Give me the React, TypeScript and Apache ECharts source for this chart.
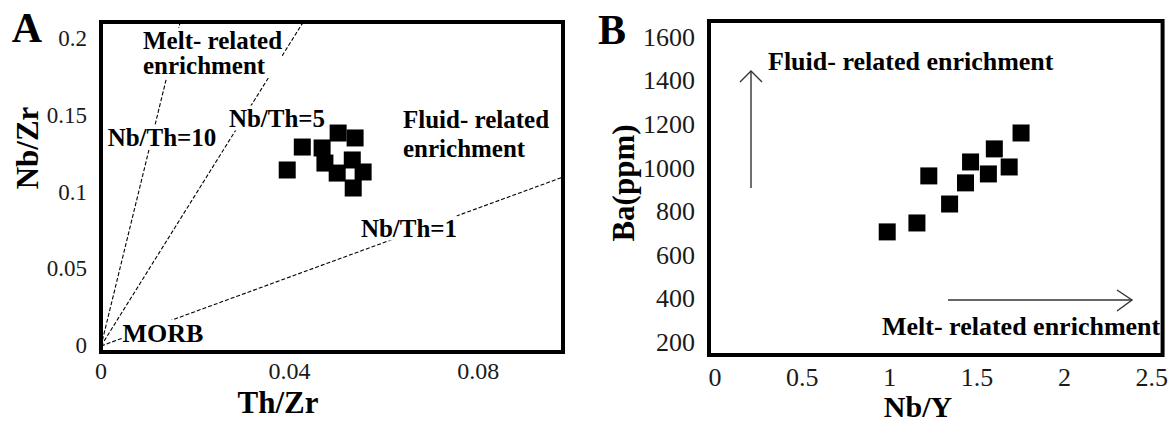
import React, { useEffect, useRef } from "react";
import * as echarts from "echarts";

// ---------- Panel A data (Th/Zr vs Nb/Zr) ----------
const aThZr = [0.0395, 0.0427, 0.0469, 0.0503, 0.0539, 0.0475, 0.0501, 0.0533, 0.0556, 0.0535];
const aNbZr = [0.1143, 0.1292, 0.1286, 0.1383, 0.1351, 0.1188, 0.1123, 0.1208, 0.113, 0.1026];
const aXTicks = [0, 0.04, 0.08];
const aYTicks = [0, 0.05, 0.1, 0.15, 0.2];
// reference ratio lines (start / end points)
const nbTh10Line = [[0, 0], [0.0168, 0.2104]];
const nbTh5Line = [[0, 0], [0.0429, 0.2104]];
const nbTh1Line = [[0, 0], [0.098, 0.1097]];

// ---------- Panel B data (Nb/Y vs Ba) ----------
const bNbY = [0.986, 1.156, 1.224, 1.343, 1.434, 1.463, 1.565, 1.599, 1.684, 1.752];
const bBa = [707, 748, 964, 835, 932, 1028, 973, 1088, 1005, 1161];
const bXTicks = [0, 0.5, 1, 1.5, 2, 2.5];
const bYTicks = [200, 400, 600, 800, 1000, 1200, 1400, 1600];

const SERIF = "Liberation Serif";
const fmt = (v: number) => String(+Number(v).toFixed(3));

const labelStyle = (size: number, margin: number, custom: number[]) => ({
  customValues: custom,
  margin,
  fontSize: size,
  fontFamily: SERIF,
  fontWeight: "normal",
  color: "#1a1a1a",
  formatter: fmt,
});

const hidden = {
  axisLine: { show: false },
  axisTick: { show: false },
  splitLine: { show: false },
};

const txt = (
  text: string,
  x: number,
  y: number,
  size: number,
  align: string = "center",
  extra: any = {}
) => ({
  type: "text",
  x,
  y,
  z: 5,
  ...extra,
  style: {
    text,
    font: `bold ${size}px "${SERIF}"`,
    fill: "#000",
    align,
    verticalAlign: "middle",
    ...(extra.style || {}),
  },
});

export default function App() {
  const ref = useRef<HTMLDivElement>(null);
  useEffect(() => {
    const chart = echarts.init(ref.current!, null, { renderer: "svg" });
    const dashed = { color: "#000", width: 1.1, type: [4, 2] };
    const option: any = {
      animation: false,
      backgroundColor: "#fff",
      textStyle: { fontFamily: SERIF },
      grid: [
        { left: 101, top: 22, width: 462, height: 330, show: true, borderColor: "#000", borderWidth: 4 },
        { left: 709, top: 21, width: 458, height: 334, show: true, borderColor: "#000", borderWidth: 4 },
      ],
      xAxis: [
        { gridIndex: 0, type: "value", min: 0, max: 0.098, ...hidden, axisLabel: labelStyle(24, 7, aXTicks) },
        { gridIndex: 1, type: "value", min: -0.034, max: 2.562, ...hidden, axisLabel: labelStyle(26, 9, bXTicks) },
      ],
      yAxis: [
        { gridIndex: 0, type: "value", min: -0.0039, max: 0.2104, ...hidden, axisLabel: labelStyle(23, 14, aYTicks) },
        { gridIndex: 1, type: "value", min: 142, max: 1675, ...hidden, axisLabel: labelStyle(26, 14, bYTicks) },
      ],
      series: [
        { type: "line", xAxisIndex: 0, yAxisIndex: 0, data: nbTh10Line, symbol: "none", lineStyle: dashed, z: 2 },
        { type: "line", xAxisIndex: 0, yAxisIndex: 0, data: nbTh5Line, symbol: "none", lineStyle: dashed, z: 2 },
        { type: "line", xAxisIndex: 0, yAxisIndex: 0, data: nbTh1Line, symbol: "none", lineStyle: dashed, z: 2 },
        {
          type: "scatter",
          xAxisIndex: 0,
          yAxisIndex: 0,
          data: aThZr.map((x, i) => [x, aNbZr[i]]),
          symbol: "rect",
          symbolSize: 17,
          itemStyle: { color: "#000", opacity: 1 },
          z: 10,
        },
        {
          type: "scatter",
          xAxisIndex: 1,
          yAxisIndex: 1,
          data: bNbY.map((x, i) => [x, bBa[i]]),
          symbol: "rect",
          symbolSize: 17,
          itemStyle: { color: "#000", opacity: 1 },
          z: 10,
        },
      ],
      graphic: [
        // Panel letters
        txt("A", 27, 28, 42),
        txt("B", 612, 30, 42),
        // Axis titles
        txt("Th/Zr", 278, 402, 31),
        txt("Nb/Zr", 27, 148, 31, "center", { rotation: Math.PI / 2 }),
        txt("Nb/Y", 918, 406, 30),
        txt("Ba(ppm)", 623, 183, 31, "center", { rotation: Math.PI / 2 }),
        // Panel A annotations
        txt("Melt- related\nenrichment", 143, 53, 25, "left", { style: { backgroundColor: "#fff", lineHeight: 25 } }),
        txt("Nb/Th=10", 162, 137, 25, "center", { style: { backgroundColor: "#fff" } }),
        txt("Nb/Th=5", 277, 118, 25, "center", { style: { backgroundColor: "#fff" } }),
        txt("Fluid- related\nenrichment", 403, 134, 25, "left", { style: { backgroundColor: "#fff", lineHeight: 29 } }),
        txt("Nb/Th=1", 409, 228, 25, "center", { style: { backgroundColor: "#fff" } }),
        txt("MORB", 163, 333, 26, "center", { style: { backgroundColor: "#fff" } }),
        // Panel B annotations
        txt("Fluid- related enrichment", 768, 61, 26, "left"),
        txt("Melt- related enrichment", 882, 326, 26, "left"),
        // Panel B arrows
        { type: "line", z: 5, shape: { x1: 751, y1: 188, x2: 751, y2: 71 }, style: { stroke: "#333", lineWidth: 1.4 } },
        { type: "polyline", z: 5, shape: { points: [[740, 82], [751, 71], [762, 82]] }, style: { stroke: "#333", lineWidth: 1.4, fill: "none" } },
        { type: "line", z: 5, shape: { x1: 948, y1: 300, x2: 1132, y2: 300 }, style: { stroke: "#333", lineWidth: 1.4 } },
        { type: "polyline", z: 5, shape: { points: [[1117, 290], [1132, 300], [1117, 311]] }, style: { stroke: "#333", lineWidth: 1.4, fill: "none" } },
      ],
    };
    chart.setOption(option);
    return () => chart.dispose();
  }, []);
  return (
    <div
      ref={ref}
      style={{ position: "fixed", left: 0, top: 0, width: 1171, height: 421, background: "#fff" }}
    />
  );
}
